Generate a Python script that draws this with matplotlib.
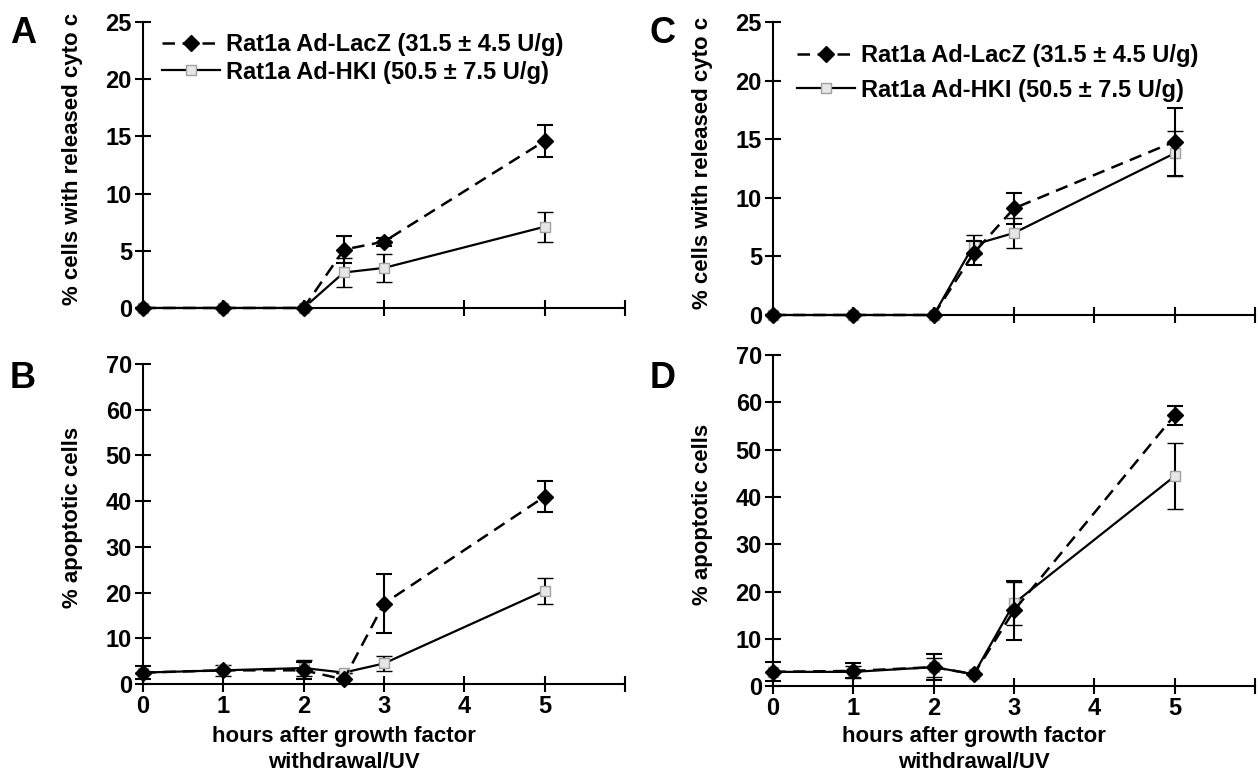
import matplotlib
matplotlib.use('Agg')
import matplotlib.pyplot as plt
from matplotlib.lines import Line2D
import numpy as np

plt.rcParams['font.family'] = ['Liberation Sans', 'DejaVu Sans']
plt.rcParams['font.weight'] = 'bold'

# hours after withdrawal
hours = [0, 1, 2, 2.5, 3, 5]

# panel A: % cells with released cyto c (growth factor)
a_lacz = [0, 0, 0, 5.1, 5.8, 14.6]
a_lacz_err = [0, 0, 0, 1.2, 0.35, 1.4]
a_hki = [0, 0, 0, 3.1, 3.5, 7.1]
a_hki_err = [0, 0, 0, 1.3, 1.2, 1.3]

# panel B: % apoptotic cells (growth factor)
b_lacz = [2.5, 3.0, 3.0, 1.0, 17.6, 41.0]
b_lacz_err = [1.5, 0, 1.8, 0, 6.5, 3.3]
b_hki = [2.5, 3.0, 3.5, 2.5, 4.5, 20.4]
b_hki_err = [0, 1.2, 1.8, 0, 1.6, 2.8]

# panel C: % cells with released cyto c (UV)
c_lacz = [0, 0, 0, 5.3, 9.1, 14.8]
c_lacz_err = [0, 0, 0, 1.0, 1.3, 2.9]
c_hki = [0, 0, 0, 6.0, 7.0, 13.8]
c_hki_err = [0, 0, 0, 0.8, 1.3, 1.9]

# panel D: % apoptotic cells (UV)
d_lacz = [3.0, 3.2, 4.0, 2.5, 16.0, 57.3]
d_lacz_err = [2.0, 1.6, 2.7, 0, 6.3, 2.0]
d_hki = [3.0, 3.0, 4.0, 2.5, 17.5, 44.4]
d_hki_err = [0, 1.2, 2.0, 0, 4.6, 7.0]

lacz_label = 'Rat1a Ad-LacZ (31.5 ± 4.5 U/g)'
hki_label = 'Rat1a Ad-HKI (50.5 ± 7.5 U/g)'
xlabel = 'hours after growth factor\nwithdrawal/UV'

lacz_style = dict(color='black', lw=1.8, ls=(0, (5, 3)), marker='D', ms=8,
                  mfc='black', mec='black')
hki_style = dict(color='black', lw=1.6, ls='-', marker='s', ms=7,
                 mfc='#e6e6e6', mec='#a0a0a0', mew=1.0)

fig = plt.figure(figsize=(12.58, 7.73), dpi=100)

ax_a = fig.add_axes([0.1137, 0.6016, 0.3831, 0.370])
ax_b = fig.add_axes([0.1137, 0.1151, 0.3831, 0.414])
ax_c = fig.add_axes([0.6145, 0.5925, 0.3831, 0.379])
ax_d = fig.add_axes([0.6145, 0.1125, 0.3831, 0.428])


def draw(ax, lacz, lacz_err, hki, hki_err, ymax, ystep, ylabel,
         label_y=None, legend_at=None, spacing=0.1):
    ax.errorbar(hours, hki, yerr=hki_err, ecolor='black', elinewidth=1.5,
                capsize=6, capthick=1.5, clip_on=False, zorder=3, **hki_style)
    ax.errorbar(hours, lacz, yerr=lacz_err, ecolor='black', elinewidth=1.5,
                capsize=6, capthick=1.5, clip_on=False, zorder=4, **lacz_style)
    ax.set_xlim(0, 6)
    ax.set_ylim(0, ymax)
    for s in ['top', 'right']:
        ax.spines[s].set_visible(False)
    for s in ['left', 'bottom']:
        ax.spines[s].set_linewidth(1.5)
    ax.set_xticks(range(7))
    ax.set_yticks(np.arange(0, ymax + 1, ystep))
    ax.tick_params(direction='inout', length=12, width=1.5, labelsize=17, pad=2)
    if label_y is not None:
        ax.set_xticklabels(['0', '1', '2', '3', '4', '5', ''])
        ax.set_xlabel(xlabel, fontsize=16, fontweight='bold', linespacing=1.35)
        ax.xaxis.set_label_coords(2.5 / 6, label_y)
    else:
        ax.set_xticklabels([])
    for t in ax.get_xticklabels() + ax.get_yticklabels():
        t.set_fontweight('bold')
    ax.set_ylabel(ylabel, fontsize=16, fontweight='bold')
    ax.yaxis.set_label_coords(-0.125, 0.52)
    if legend_at is not None:
        handles = [Line2D([], [], **lacz_style), Line2D([], [], **hki_style)]
        ax.legend(handles, [lacz_label, hki_label], loc='upper left',
                  bbox_to_anchor=legend_at, frameon=False, handlelength=2.45,
                  handletextpad=0.25, labelspacing=spacing, borderpad=0,
                  prop={'weight': 'bold', 'size': 17})


draw(ax_a, a_lacz, a_lacz_err, a_hki, a_hki_err, 25, 5,
     '% cells with released cyto c', legend_at=(0.015, 1.003), spacing=0.2)
draw(ax_b, b_lacz, b_lacz_err, b_hki, b_hki_err, 70, 10,
     '% apoptotic cells', label_y=-0.13)
draw(ax_c, c_lacz, c_lacz_err, c_hki, c_hki_err, 25, 5,
     '% cells with released cyto c', legend_at=(0.025, 0.966), spacing=0.5)
draw(ax_d, d_lacz, d_lacz_err, d_hki, d_hki_err, 70, 10,
     '% apoptotic cells', label_y=-0.12)

for letter, x, y in [('A', 0.008, 0.944), ('B', 0.008, 0.498),
                     ('C', 0.516, 0.944), ('D', 0.516, 0.498)]:
    fig.text(x, y, letter, fontsize=26, fontweight='bold')

fig.savefig('out.png', dpi=100)
